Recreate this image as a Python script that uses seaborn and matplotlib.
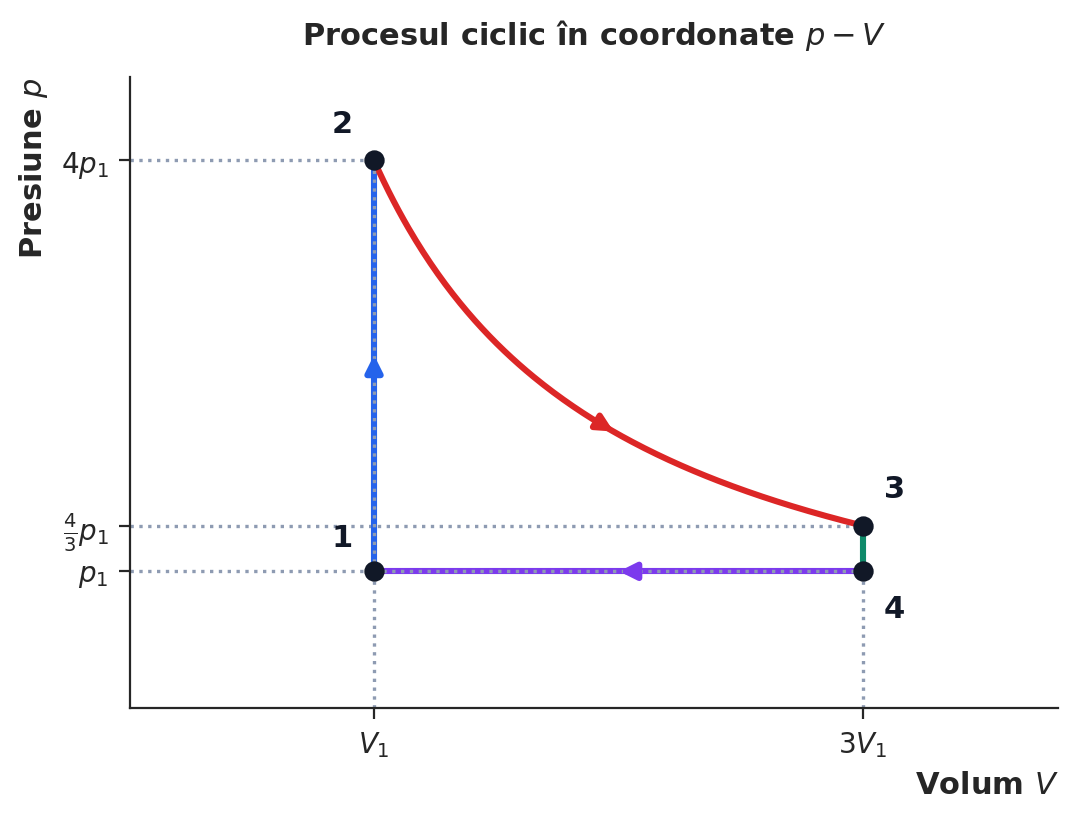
import numpy as np
import pandas as pd
import matplotlib
matplotlib.use("Agg")
import matplotlib.pyplot as plt
import seaborn as sns

# data (units of V1, p1)
states = ["1", "2", "3", "4"]
V_states = [1, 1, 3, 3]
p_states = [1, 4, 4/3, 1]
x_ticks = [1, 3]
x_ticklabels = [r"$V_1$", r"$3V_1$"]
y_ticks = [1, 4/3, 4]
y_ticklabels = [r"$p_1$", r"$\frac{4}{3}p_1$", r"$4p_1$"]

sns.set_style("white")
fig, ax = plt.subplots(figsize=(5.4, 4.1), dpi=200)
guide = "#8e9bb2"
# guide lines
for v in x_ticks:
    ax.plot([v, v], [0, 1], ls=":", color=guide, lw=1.2, zorder=1)
for p, v in zip(y_ticks, [1, 3, 1]):
    ax.plot([0, v], [p, p], ls=":", color=guide, lw=1.2, zorder=1)

# processes
V12 = np.array([1, 1]); p12 = np.array([1, 4])
V23 = np.linspace(1, 3, 200); p23 = 4 / V23
V34 = np.array([3, 3]); p34 = np.array([4/3, 1])
V41 = np.array([3, 1]); p41 = np.array([1, 1])
segs = [(V12, p12, "#2563eb"), (V23, p23, "#dc2626"), (V34, p34, "#0f8a6a"), (V41, p41, "#7c3aed")]
for V, p, c in segs:
    sns.lineplot(x=V, y=p, ax=ax, color=c, lw=2.2, sort=False, estimator=None, zorder=2)
# dotted overlay on vertical/horizontal
ax.plot([1, 1], [1, 4], ls=":", color=guide, lw=1.2, zorder=3)
ax.plot([1, 3], [1, 1], ls=":", color=guide, lw=1.2, zorder=3)

def arrow(x0, y0, x1, y1, c):
    ax.annotate("", xy=(x1, y1), xytext=(x0, y0),
                arrowprops=dict(arrowstyle="-|>", color=c, lw=2.2, mutation_scale=12), zorder=4)
arrow(1, 2.4, 1, 2.62, "#2563eb")
arrow(1.9, 4/1.9, 2.0, 2.0, "#dc2626")
arrow(2.1, 1, 1.98, 1, "#7c3aed")

ax.scatter(V_states, p_states, color="#111827", s=40, zorder=5)
offs = [(-0.13, 0.25), (-0.13, 0.27), (0.13, 0.27), (0.13, -0.27)]
for s, v, p, (dx, dy) in zip(states, V_states, p_states, offs):
    ax.text(v + dx, p + dy, s, fontsize=11, fontweight="bold", color="#111827", ha="center", va="center")

ax.set_xlim(0, 3.8)
ax.set_ylim(0, 4.61)
ax.set_xticks(x_ticks); ax.set_xticklabels(x_ticklabels, fontsize=10)
ax.set_yticks(y_ticks); ax.set_yticklabels(y_ticklabels, fontsize=10)
ax.tick_params(axis="both", length=4, width=0.8, direction="out", bottom=True, left=True)
sns.despine(ax=ax)
ax.set_xlabel(r"Volum $V$", fontsize=11, fontweight="bold", loc="right")
ax.set_ylabel(r"Presiune $p$", fontsize=11, fontweight="bold", loc="top")
ax.set_title(r"Procesul ciclic în coordonate $p-V$", fontsize=11, fontweight="bold", pad=12)
fig.subplots_adjust(left=0.12, right=0.98, bottom=0.135, top=0.905)
fig.savefig("out.png", dpi=200)
